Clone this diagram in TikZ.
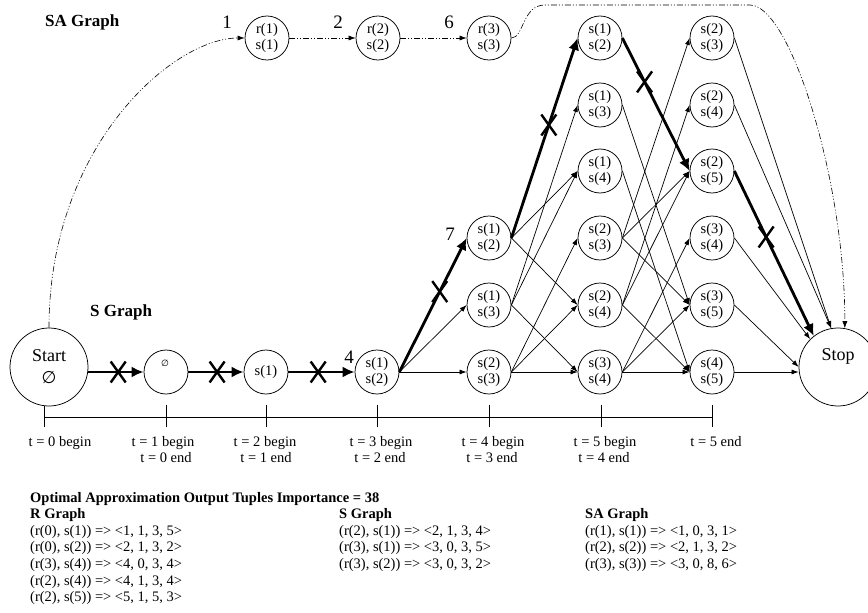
\documentclass[tikz,border=0pt]{standalone}
\usepackage{fontspec}
\setmainfont{Liberation Serif}
\newfontfamily\symfont{DejaVu Sans}
\usetikzlibrary{arrows.meta}
\tikzset{
  snode/.style={circle,draw,line width=0.75pt,minimum size=44pt,inner sep=0pt,align=center,font=\fontsize{14.5}{16.5}\selectfont},
  bignode/.style={circle,draw,line width=0.75pt,minimum size=78pt,inner sep=0pt,align=center,font=\fontsize{18}{22}\selectfont},
  thinarr/.style={line width=0.7pt,-{Latex[length=7pt,width=5pt]}},
  boldarr/.style={line width=2.8pt,-{Latex[length=12pt,width=11pt]}},
  ddarr/.style={line width=0.6pt,dash pattern=on 6pt off 2pt on 1pt off 2pt on 1pt off 2pt,-{Latex[length=7pt,width=5pt]}},
  txt/.style={font=\fontsize{14.5}{16.5}\selectfont,inner sep=0pt},
  gtitle/.style={font=\fontsize{17}{20}\selectfont\bfseries,inner sep=0pt,anchor=base west},
  numlbl/.style={font=\fontsize{19}{22}\selectfont,inner sep=0pt,anchor=base},
  xmark/.pic={\draw[line width=2.4pt] (-7.5,-10.5) -- (7.5,10.5) (-7.5,10.5) -- (7.5,-10.5);}
}
\begin{document}
\begin{tikzpicture}[x=1pt,y=-1pt]
\useasboundingbox (0,0) rectangle (868,613);

% titles
\node[gtitle] at (45,26) {SA Graph};
\node[gtitle] at (90,316) {S Graph};

% S graph main row
\node[bignode] (Start) at (49,367) {Start\\{\symfont\fontsize{17}{17}\selectfont ∅}};
\node[snode] (phi) at (166,372) {};
\node[font=\symfont\fontsize{9}{9}\selectfont,inner sep=0pt] at (165,363) {∅};
\node[snode] (s1) at (266,372) {s(1)};
\node[snode] (t3) at (377,372) {s(1)\\s(2)};

% column t=4
\node[snode] (A1) at (489,238) {s(1)\\s(2)};
\node[snode] (A2) at (489,305) {s(1)\\s(3)};
\node[snode] (A3) at (489,372) {s(2)\\s(3)};

% column t=5
\node[snode] (B1) at (600,38)  {s(1)\\s(2)};
\node[snode] (B2) at (600,105) {s(1)\\s(3)};
\node[snode] (B3) at (600,171) {s(1)\\s(4)};
\node[snode] (B4) at (600,238) {s(2)\\s(3)};
\node[snode] (B5) at (600,305) {s(2)\\s(4)};
\node[snode] (B6) at (600,372) {s(3)\\s(4)};

% column end
\node[snode] (C1) at (712,38)  {s(2)\\s(3)};
\node[snode] (C2) at (712,105) {s(2)\\s(4)};
\node[snode] (C3) at (712,171) {s(2)\\s(5)};
\node[snode] (C4) at (712,238) {s(3)\\s(4)};
\node[snode] (C5) at (712,305) {s(3)\\s(5)};
\node[snode] (C6) at (712,372) {s(4)\\s(5)};

\node[bignode] (Stop) at (838,367) {};
\node[font=\fontsize{18}{22}\selectfont,inner sep=0pt] at (838,356) {Stop};

% SA graph
\node[snode] (sa1) at (267,38) {r(1)\\s(1)};
\node[snode] (sa2) at (378,38) {r(2)\\s(2)};
\node[snode] (sa3) at (489,38) {r(3)\\s(3)};

% number labels
\node[numlbl] at (227,28) {1};
\node[numlbl] at (338,28) {2};
\node[numlbl] at (449,28) {6};
\node[numlbl] at (349,363) {4};
\node[numlbl] at (450,240) {7};

% SA dash-dot path
\draw[ddarr] (Start.north) .. controls (49,146) and (173,38) .. (sa1.west);
\draw[ddarr] (sa1.east) -- (sa2.west);
\draw[ddarr] (sa2.east) -- (sa3.west);
\draw[ddarr] (sa3.east) .. controls (524,38) and (522,5) .. (545,5) -- (750,5) .. controls (790,5) and (845,180) .. (Stop.80);

% bold optimal path
\draw[boldarr] (Start.east |- phi) -- coordinate[pos=0.54] (x1) (phi.west);
\draw[boldarr] (phi.east) -- coordinate[pos=0.52] (x2) (s1.west);
\draw[boldarr] (s1.east) -- coordinate[pos=0.45] (x3) (t3.west);
\draw[boldarr] (t3.east) -- coordinate[pos=0.6] (x4) (A1.west);
\draw[boldarr] (A1.east) -- coordinate[pos=0.565] (x5) (B1.west);
\draw[boldarr] (B1.east) -- coordinate[pos=0.33] (x6) (C3.west);
\draw[boldarr] (C3.east) -- coordinate[pos=0.4] (x7) (Stop.128);

% thin edges
\draw[thinarr] (t3.east) -- (A2.west);
\draw[thinarr] (t3.east) -- (A3.west);
\draw[thinarr] (A1.east) -- (B3.west);
\draw[thinarr] (A1.east) -- (B5.west);
\draw[thinarr] (A2.east) -- (B2.west);
\draw[thinarr] (A2.east) -- (B3.west);
\draw[thinarr] (A2.east) -- (B6.west);
\draw[thinarr] (A3.east) -- (B4.west);
\draw[thinarr] (A3.east) -- (B5.west);
\draw[thinarr] (A3.east) -- (B6.west);
\draw[thinarr] (B2.east) -- (C5.west);
\draw[thinarr] (B3.east) -- (C6.west);
\draw[thinarr] (B4.east) -- (C1.west);
\draw[thinarr] (B4.east) -- (C3.west);
\draw[thinarr] (B4.east) -- (C5.west);
\draw[thinarr] (B5.east) -- (C2.west);
\draw[thinarr] (B5.east) -- (C3.west);
\draw[thinarr] (B5.east) -- (C6.west);
\draw[thinarr] (B6.east) -- (C4.west);
\draw[thinarr] (B6.east) -- (C5.west);
\draw[thinarr] (B6.east) -- (C6.west);
\draw[thinarr] (C1.east) -- (Stop.100);
\draw[thinarr] (C2.east) -- (Stop.100);
\draw[thinarr] (C4.east) -- (Stop.135);
\draw[thinarr] (C5.east) -- (Stop.west);
\draw[thinarr] (C6.east) -- (C6.east -| Stop.west);

% X marks
\foreach \c in {x1,x2,x3,x4,x5,x6,x7} \pic at (\c) {xmark};

% time axis
\draw[line width=0.75pt] (44,417) -- (712,417);
\draw[line width=0.75pt] (44,406) -- (44,427);
\foreach \x in {166,266,377,489,601,712} \draw[line width=0.75pt] (\x,405) -- (\x,427);
\node[txt,anchor=base] at (60,446) {t = 0 begin};
\node[txt,anchor=base] at (163,446) {t = 1 begin};
\node[txt,anchor=base] at (166,462) {t = 0 end};
\node[txt,anchor=base] at (265,446) {t = 2 begin};
\node[txt,anchor=base] at (266,462) {t = 1 end};
\node[txt,anchor=base] at (381,446) {t = 3 begin};
\node[txt,anchor=base] at (380,462) {t = 2 end};
\node[txt,anchor=base] at (493,446) {t = 4 begin};
\node[txt,anchor=base] at (492,462) {t = 3 end};
\node[txt,anchor=base] at (605,446) {t = 5 begin};
\node[txt,anchor=base] at (604,462) {t = 4 end};
\node[txt,anchor=base] at (716,446) {t = 5 end};

% bottom table
\node[txt,anchor=base west] at (30,502) {\bfseries Optimal Approximation Output Tuples Importance = 38};
\node[txt,anchor=base west] at (30,518) {\bfseries R Graph};
\node[txt,anchor=base west] at (30,535) {(r(0), s(1)) => <1, 1, 3, 5>};
\node[txt,anchor=base west] at (30,551.7) {(r(0), s(2)) => <2, 1, 3, 2>};
\node[txt,anchor=base west] at (30,568.4) {(r(3), s(4)) => <4, 0, 3, 4>};
\node[txt,anchor=base west] at (30,585.1) {(r(2), s(4)) => <4, 1, 3, 4>};
\node[txt,anchor=base west] at (30,601.8) {(r(2), s(5)) => <5, 1, 5, 3>};
\node[txt,anchor=base west] at (339,518) {\bfseries S Graph};
\node[txt,anchor=base west] at (339,535) {(r(2), s(1)) => <2, 1, 3, 4>};
\node[txt,anchor=base west] at (339,551.7) {(r(3), s(1)) => <3, 0, 3, 5>};
\node[txt,anchor=base west] at (339,568.4) {(r(3), s(2)) => <3, 0, 3, 2>};
\node[txt,anchor=base west] at (585,518) {\bfseries SA Graph};
\node[txt,anchor=base west] at (585,535) {(r(1), s(1)) => <1, 0, 3, 1>};
\node[txt,anchor=base west] at (585,551.7) {(r(2), s(2)) => <2, 1, 3, 2>};
\node[txt,anchor=base west] at (585,568.4) {(r(3), s(3)) => <3, 0, 8, 6>};
\end{tikzpicture}
\end{document}
